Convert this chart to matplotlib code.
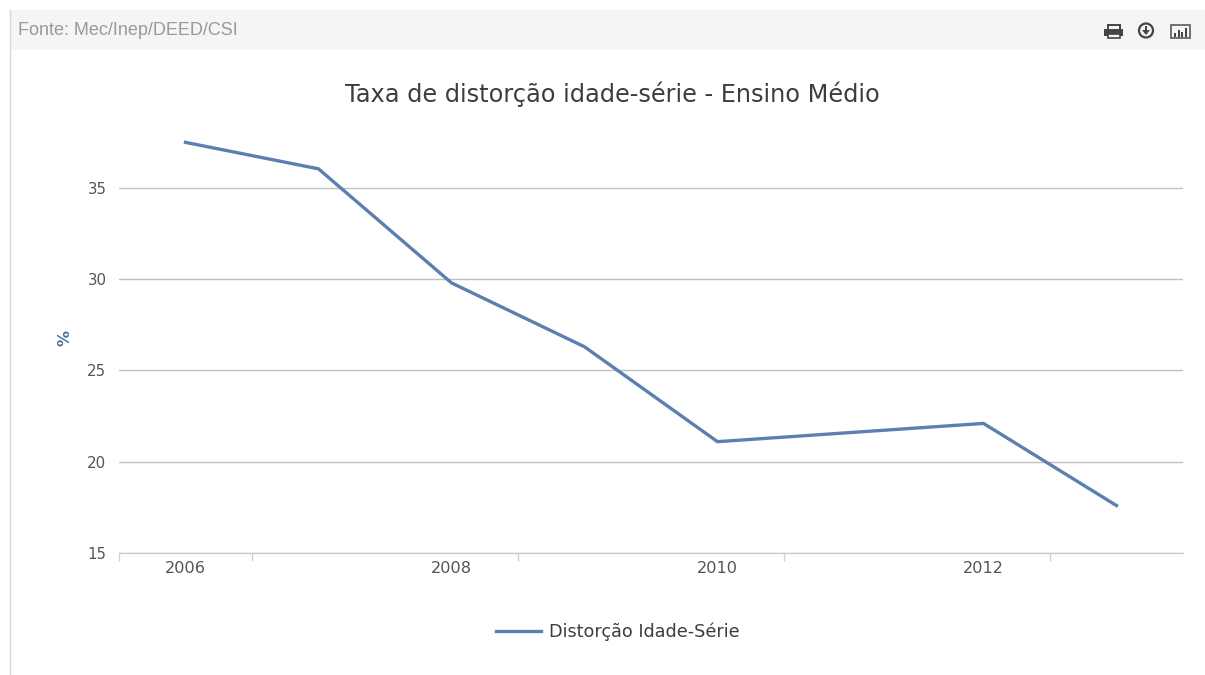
import matplotlib
matplotlib.use("Agg")
import matplotlib.pyplot as plt
from matplotlib.patches import Rectangle, Circle, Polygon

years = ["2006", "2007", "2008", "2009", "2010", "2011", "2012", "2013"]
taxa = [37.5, 36.05, 29.8, 26.3, 21.1, 21.6, 22.1, 17.6]
y_ticks = [15, 20, 25, 30, 35]

W = 1205
H = 675
line_color = "#5b80b0"
grid_color = "#c0c0c0"
text_color = "#555555"

fig = plt.figure(figsize = (W / 100, H / 100), dpi = 100, facecolor = "white")

# page furniture, in pixel coords
bg = fig.add_axes([0, 0, 1, 1])
bg.set_xlim(0, W)
bg.set_ylim(H, 0)
bg.axis("off")
bg.add_patch(Rectangle((10, 10), W - 10, 40, facecolor = "#f5f5f5", edgecolor = "none"))
bg.plot([10, 10], [10, H], color = "#d8d8d8", lw = 1)
bg.text(18, 30.5, "Fonte: Mec/Inep/DEED/CSI", family = "Liberation Sans", fontsize = 13, color = "#999999", va = "center", ha = "left")

# printer icon
icon = "#444444"
bg.add_patch(Rectangle((1104, 29), 19, 7, facecolor = icon, edgecolor = "none"))
bg.add_patch(Rectangle((1107.5, 24.5), 12, 5, facecolor = "#f5f5f5", edgecolor = icon, lw = 1.4))
bg.add_patch(Rectangle((1107.5, 33.5), 12, 4, facecolor = "#f5f5f5", edgecolor = icon, lw = 1.2))
# download icon
bg.add_patch(Circle((1146, 30.5), 7, facecolor = "#f5f5f5", edgecolor = icon, lw = 1.6))
bg.add_patch(Rectangle((1144.7, 26), 2.6, 4, facecolor = icon, edgecolor = "none"))
bg.add_patch(Polygon([[1142, 30], [1150, 30], [1146, 35]], facecolor = icon, edgecolor = "none"))
# chart icon
bg.add_patch(Rectangle((1170.5, 24.5), 19, 13, facecolor = "#f5f5f5", edgecolor = "#666666", lw = 1.3))
for bx, bt in zip([1174, 1177.5, 1181, 1184.5], [33, 30, 31.5, 27.5]):
	bg.add_patch(Rectangle((bx, bt), 2.2, 36.5 - bt, facecolor = icon, edgecolor = "none"))

# chart axes: x 119-1183 px, y 15 at 553 px, 35 at 188 px
top_px = 130
ax = fig.add_axes([119 / W, 1 - 553 / H, (1183 - 119) / W, (553 - top_px) / H])
ax.patch.set_alpha(0)
xs = list(range(len(years)))
ax.plot(xs, taxa, color = line_color, lw = 2.4, solid_joinstyle = "round", label = "Distorção Idade-Série", clip_on = False)
ax.set_xlim(-0.5, 7.5)
ax.set_ylim(15, 15 + (553 - top_px) / 18.25)

ax.set_yticks(y_ticks)
ax.set_yticklabels([str(v) for v in y_ticks], fontsize = 10.8, color = text_color)
ax.tick_params(axis = "y", length = 0, pad = 9)
ax.grid(axis = "y", color = grid_color, lw = 1)
ax.set_axisbelow(True)

ax.set_xticks([-0.5, 0.5, 2.5, 4.5, 6.5])
ax.set_xticklabels([])
ax.tick_params(axis = "x", direction = "out", length = 6, width = 1, color = "#c8d2de")
ax.set_xticks([0, 2, 4, 6], minor = True)
ax.set_xticklabels([years[i] for i in [0, 2, 4, 6]], minor = True, fontsize = 11.6, color = text_color)
ax.tick_params(axis = "x", which = "minor", length = 0, pad = 6)

for side in ["top", "left", "right"]:
	ax.spines[side].set_visible(False)
ax.spines["bottom"].set_color("#c0c8d0")

fig.text(612 / W, 1 - 94 / H, "Taxa de distorção idade-série - Ensino Médio", fontsize = 17.3, color = "#3d3d3d", ha = "center", va = "center")
fig.text(65 / W, 1 - 338 / H, "%", fontsize = 11.5, fontweight = "bold", color = "#4d7098", rotation = 90, ha = "center", va = "center")

# legend
bg.plot([496, 541], [631, 631], color = line_color, lw = 2.4)
bg.text(549, 631.5, "Distorção Idade-Série", fontsize = 12.7, color = "#3d3d3d", va = "center", ha = "left")

fig.savefig("out.png", dpi = 100)
